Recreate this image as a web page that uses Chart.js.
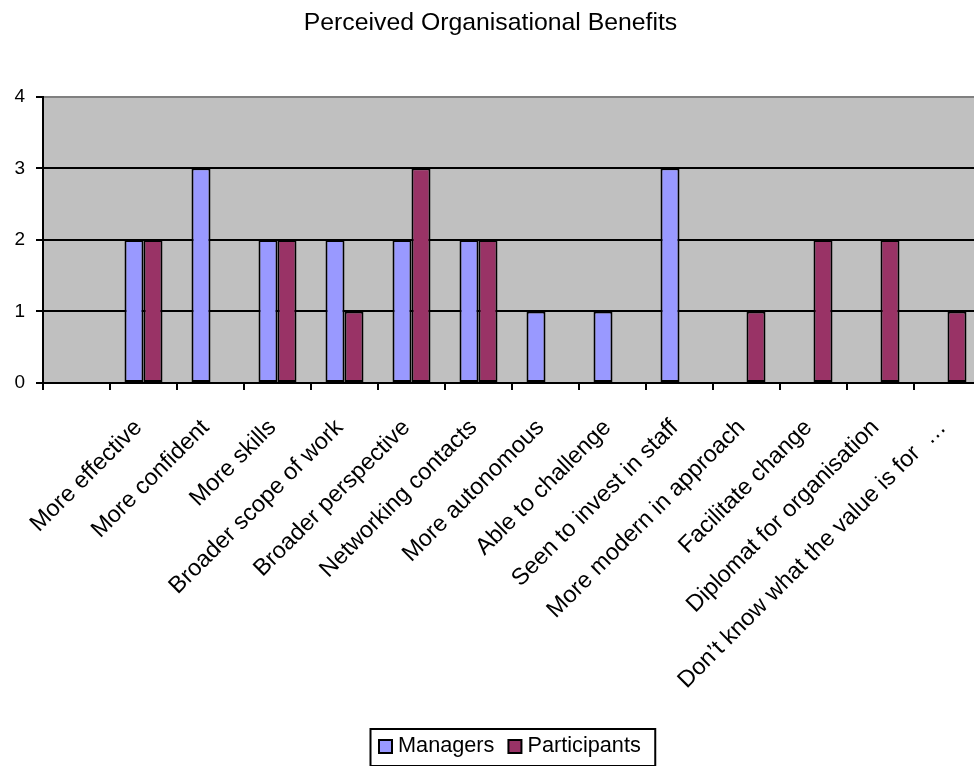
<!DOCTYPE html>
<html>
<head>
<meta charset="utf-8">
<script src="https://cdn.jsdelivr.net/npm/chart.js@4"></script>
<style>
  html, body { margin: 0; padding: 0; background: #fff; overflow: hidden; }
  #wrap { width: 1000px; height: 766px; position: relative; }
</style>
</head>
<body>
<div id="wrap"><canvas id="chart"></canvas></div>
<script>
// --- data ---
const categories = [
    'More effective', 'More confident', 'More skills', 'Broader scope of work',
    'Broader perspective', 'Networking contacts', 'More autonomous', 'Able to challenge',
    'Seen to invest in staff', 'More modern in approach', 'Facilitate change',
    'Diplomat for organisation', 'Don\u2019t know what the value is for  \u2026'
];
const managers     = [2, 3, 2, 2, 2, 2, 1, 1, 3, 0, 0, 0, 0];
const participants = [2, 0, 2, 1, 3, 2, 0, 0, 0, 1, 2, 2, 1];
const yTicks = [0, 1, 2, 3, 4];

const FONT = "'Liberation Sans', Arial, sans-serif";
Chart.defaults.font.family = FONT;
Chart.defaults.color = '#000';

// the original sheet has an empty first row, so the first slot stays blank
const labels = [''].concat(categories);

// grey plot area
const plotBackground = {
    id: 'plotBackground',
    beforeDraw(chart) {
        const a = chart.chartArea;
        const ctx = chart.ctx;
        ctx.save();
        ctx.fillStyle = '#C0C0C0';
        ctx.fillRect(a.left, a.top, a.right - a.left, a.bottom - a.top);
        ctx.restore();
    }
};

// boxed legend like the excel one
const boxedLegend = {
    id: 'boxedLegend',
    afterDraw(chart) {
        const ctx = chart.ctx;
        const a = chart.chartArea;
        const sets = chart.data.datasets;
        const fontSize = 21.7;
        ctx.save();
        ctx.font = fontSize + 'px ' + FONT;
        const widths = sets.map(d => ctx.measureText(d.label).width);
        const padL = 9, padR = 14, sw = 13, gap = 6, between = 14;
        let total = padL + padR + (sets.length - 1) * between;
        widths.forEach(w => { total += sw + gap + w; });
        const left = Math.round((a.left + a.right) / 2 - total / 2);
        const top = chart.scales.x.bottom + 4;
        const h = 37;
        ctx.lineWidth = 2;
        ctx.strokeStyle = '#000';
        ctx.strokeRect(left + 0.5, top, total, h);
        let x = left + padL;
        const cy = top + 17.5;
        sets.forEach((d, i) => {
            ctx.fillStyle = d.backgroundColor;
            ctx.fillRect(x, cy - 6.5, sw, sw);
            ctx.strokeRect(x, cy - 6.5, sw, sw);
            ctx.fillStyle = '#000';
            ctx.textBaseline = 'middle';
            ctx.textAlign = 'left';
            ctx.fillText(d.label, x + sw + gap, cy);
            x += sw + gap + widths[i] + between;
        });
        ctx.restore();
    }
};

new Chart(document.getElementById('chart'), {
    type: 'bar',
    data: {
        labels: labels,
        datasets: [{
            label: 'Managers',
            data: [null].concat(managers),
            backgroundColor: '#9999FF',
            borderColor: '#000',
            borderWidth: 2,
            borderSkipped: false,
            inflateAmount: 0,
            barPercentage: 1,
            categoryPercentage: 0.567
        }, {
            label: 'Participants',
            data: [null].concat(participants),
            backgroundColor: '#993366',
            borderColor: '#000',
            borderWidth: 2,
            borderSkipped: false,
            inflateAmount: 0,
            barPercentage: 1,
            categoryPercentage: 0.567
        }]
    },
    options: {
        responsive: true,
        maintainAspectRatio: false,
        animation: false,
        layout: { padding: { left: 0, right: 19, top: 0, bottom: 41 } },
        plugins: {
            legend: { display: false },
            tooltip: { enabled: false },
            title: {
                display: true,
                text: 'Perceived Organisational Benefits',
                color: '#000',
                font: { size: 24.8, weight: 'normal' },
                padding: { top: 8, bottom: 59 }
            }
        },
        scales: {
            x: {
                offset: true,
                grid: {
                    offset: true,
                    drawOnChartArea: false,
                    drawTicks: true,
                    tickLength: 7,
                    tickColor: '#000',
                    lineWidth: 2
                },
                border: { color: '#000', width: 2 },
                ticks: {
                    autoSkip: false,
                    minRotation: 45,
                    maxRotation: 45,
                    padding: 24,
                    labelOffset: -5,
                    color: '#000',
                    font: { size: 23.5 }
                },
                afterFit(scale) { scale.height = 342; }
            },
            y: {
                min: 0,
                max: 4,
                afterBuildTicks(scale) { scale.ticks = yTicks.map(v => ({ value: v })); },
                grid: {
                    color: ctx => (ctx.tick && ctx.tick.value === 4) ? '#808080' : '#000',
                    tickColor: '#000',
                    lineWidth: 2,
                    tickLength: 7
                },
                border: { color: '#000', width: 2 },
                ticks: {
                    padding: 11,
                    color: '#000',
                    font: { size: 19 }
                },
                afterFit(scale) { scale.width = 43; }
            }
        }
    },
    plugins: [plotBackground, boxedLegend]
});
</script>
</body>
</html>
